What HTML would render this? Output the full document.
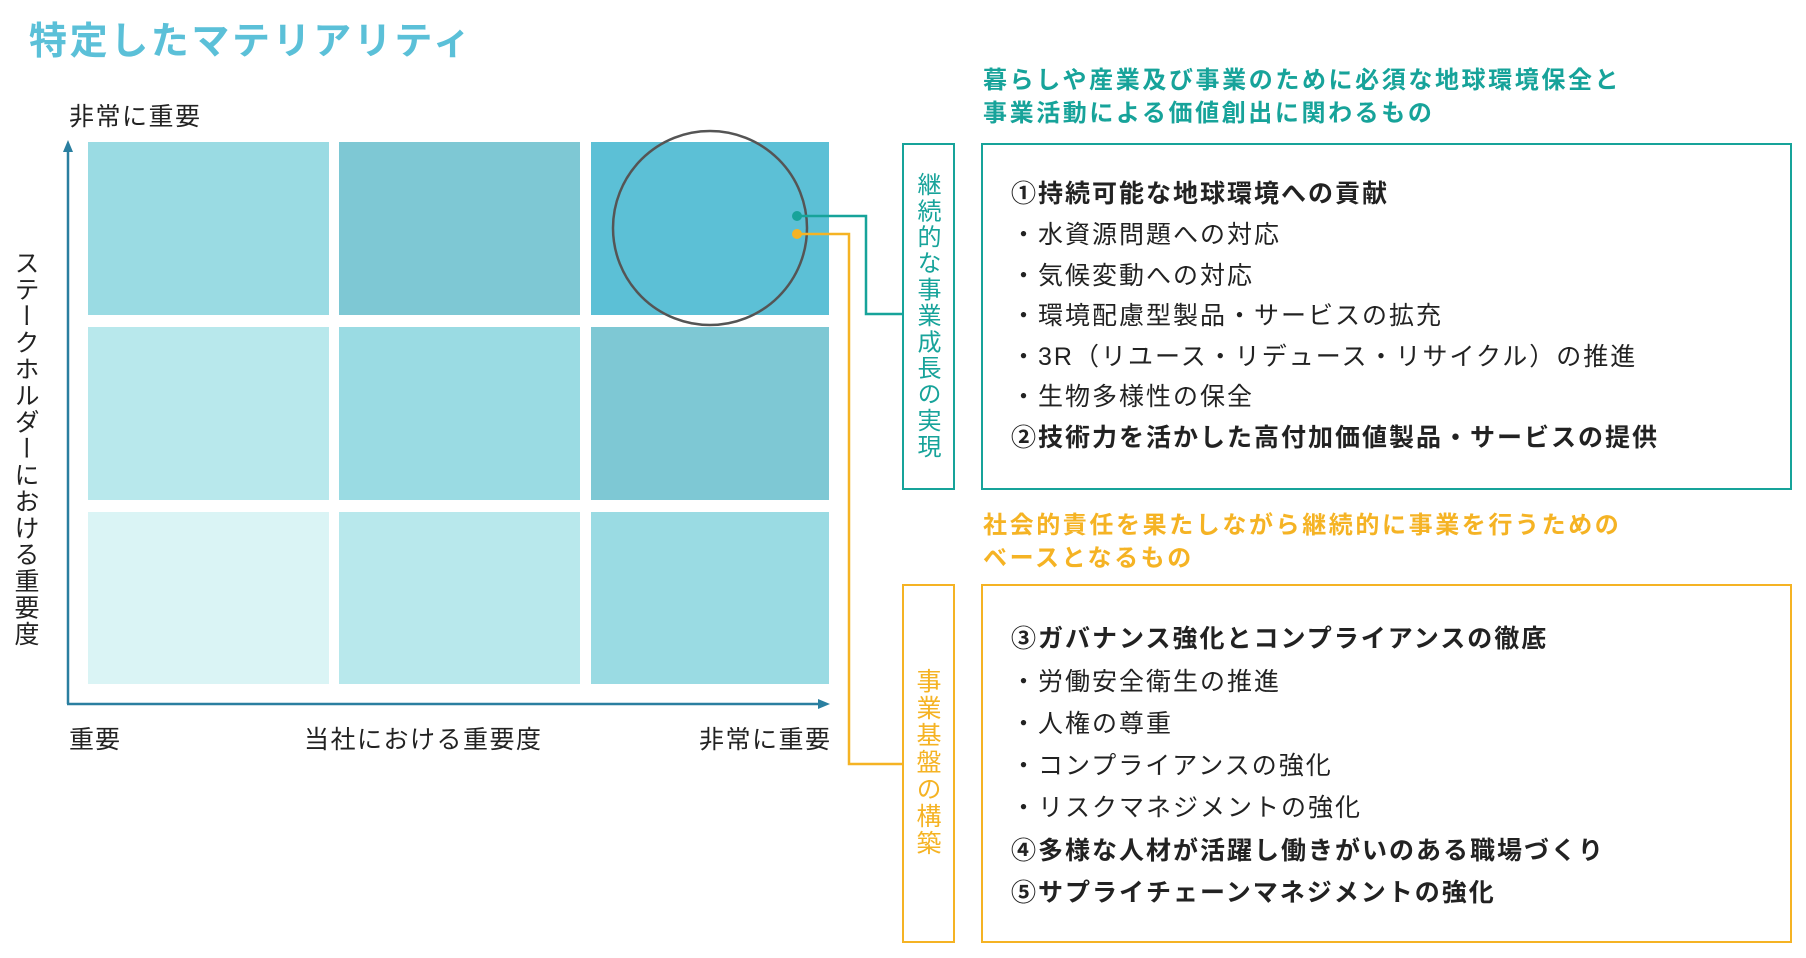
<!DOCTYPE html>
<html><head><meta charset="utf-8"><style>
body{margin:0;width:1806px;height:958px;background:#fff;position:relative;overflow:hidden;font-family:"Liberation Sans","Noto Sans CJK JP",sans-serif;color:#222}
.a{position:absolute;white-space:nowrap}
.c{position:absolute}
.it{position:absolute;left:1011px;font-size:25px;line-height:30px;white-space:nowrap;letter-spacing:2px}
.b{font-weight:bold}
.v{position:absolute;writing-mode:vertical-rl;font-size:25px;letter-spacing:1.5px;line-height:1}
</style></head><body>
<div class="a b" style="left:29px;top:10px;font-size:38px;color:#5bc0d8;letter-spacing:2.6px">特定したマテリアリティ</div>
<div class="a" style="left:69px;top:97px;font-size:25px;letter-spacing:1.5px">非常に重要</div>
<div class="v" style="left:12px;top:250px">ステークホルダーにおける重要度</div>

<div class="c" style="left:88px;top:142px;width:241px;height:173px;background:#9adbe3"></div>
<div class="c" style="left:339px;top:142px;width:241px;height:173px;background:#7ec8d4"></div>
<div class="c" style="left:591px;top:142px;width:238px;height:173px;background:#5cc0d6"></div>
<div class="c" style="left:88px;top:327px;width:241px;height:173px;background:#b8e8ec"></div>
<div class="c" style="left:339px;top:327px;width:241px;height:173px;background:#9adbe3"></div>
<div class="c" style="left:591px;top:327px;width:238px;height:173px;background:#7ec8d4"></div>
<div class="c" style="left:88px;top:512px;width:241px;height:172px;background:#daf4f5"></div>
<div class="c" style="left:339px;top:512px;width:241px;height:172px;background:#b8e8ec"></div>
<div class="c" style="left:591px;top:512px;width:238px;height:172px;background:#9adbe3"></div>

<svg class="c" style="left:0;top:0" width="1806" height="958">
<line x1="68" y1="148" x2="68" y2="704" stroke="#2a7fa0" stroke-width="2.5"/>
<polygon points="68,140 63,152 73,152" fill="#2a7fa0"/>
<line x1="67" y1="704" x2="822" y2="704" stroke="#2a7fa0" stroke-width="2.5"/>
<polygon points="830,704 818,699 818,709" fill="#2a7fa0"/>
<ellipse cx="710" cy="228" rx="97" ry="97" fill="none" stroke="#555" stroke-width="2.5"/>
<polyline points="798,216 866,216 866,314 903,314" fill="none" stroke="#17a39a" stroke-width="2.5"/>
<polyline points="798,234 849,234 849,764 903,764" fill="none" stroke="#f5b324" stroke-width="2.5"/>
<circle cx="797" cy="216" r="5" fill="#17a39a"/>
<circle cx="797" cy="234" r="5" fill="#f5b324"/>
</svg>

<div class="a" style="left:69px;top:720px;font-size:25px;letter-spacing:1px">重要</div>
<div class="a" style="left:304px;top:720px;font-size:25px;letter-spacing:1.5px">当社における重要度</div>
<div class="a" style="left:699px;top:720px;font-size:25px;letter-spacing:1.5px">非常に重要</div>

<div class="c" style="left:902px;top:143px;width:49px;height:343px;border:2.5px solid #17a39a"></div>
<div class="v" style="left:914px;top:172px;color:#17a39a;font-size:24px;letter-spacing:2.2px">継続的な事業成長の実現</div>
<div class="c" style="left:981px;top:143px;width:807px;height:343px;border:2.5px solid #17a39a"></div>

<div class="c" style="left:902px;top:584px;width:49px;height:355px;border:2.5px solid #f5b324"></div>
<div class="v" style="left:914px;top:668px;color:#f5b324;font-size:25px;letter-spacing:2px">事業基盤の構築</div>
<div class="c" style="left:981px;top:584px;width:807px;height:355px;border:2.5px solid #f5b324"></div>

<div class="a b" style="left:983px;top:64px;font-size:24px;line-height:33px;color:#17a39a;letter-spacing:2.6px">暮らしや産業及び事業のために必須な地球環境保全と<br>事業活動による価値創出に関わるもの</div>
<div class="a b" style="left:983px;top:509px;font-size:24px;line-height:33px;color:#f5b324;letter-spacing:2.6px">社会的責任を果たしながら継続的に事業を行うための<br>ベースとなるもの</div>

<div class="it b" style="top:179px">①持続可能な地球環境への貢献</div>
<div class="it" style="top:220px">・水資源問題への対応</div>
<div class="it" style="top:261px">・気候変動への対応</div>
<div class="it" style="top:301px">・環境配慮型製品・サービスの拡充</div>
<div class="it" style="top:342px">・3R（リユース・リデュース・リサイクル）の推進</div>
<div class="it" style="top:382px">・生物多様性の保全</div>
<div class="it b" style="top:423px">②技術力を活かした高付加価値製品・サービスの提供</div>

<div class="it b" style="top:624px">③ガバナンス強化とコンプライアンスの徹底</div>
<div class="it" style="top:667px">・労働安全衛生の推進</div>
<div class="it" style="top:709px">・人権の尊重</div>
<div class="it" style="top:751px">・コンプライアンスの強化</div>
<div class="it" style="top:793px">・リスクマネジメントの強化</div>
<div class="it b" style="top:836px">④多様な人材が活躍し働きがいのある職場づくり</div>
<div class="it b" style="top:878px">⑤サプライチェーンマネジメントの強化</div>
</body></html>
